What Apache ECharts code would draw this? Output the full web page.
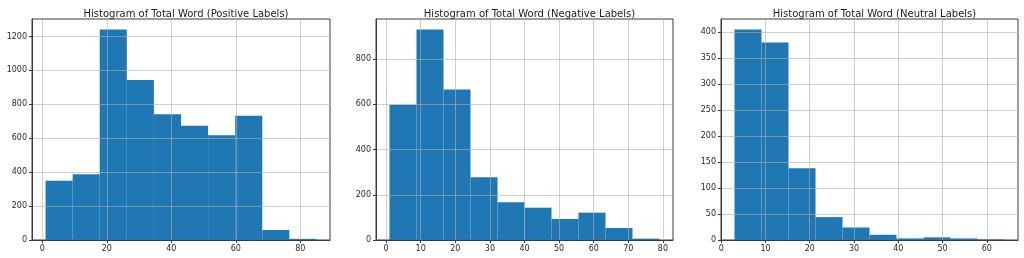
<!DOCTYPE html>
<html>
<head>
<meta charset="utf-8">
<script src="https://cdn.jsdelivr.net/npm/echarts@6/dist/echarts.min.js"></script>
<style>
html,body{margin:0;padding:0;background:#fff;}
#chart{width:1024px;height:258px;}
</style>
</head>
<body>
<div id="chart"></div>
<script>
// ---- data ----
const titles = [
  'Histogram of Total Word (Positive Labels)',
  'Histogram of Total Word (Negative Labels)',
  'Histogram of Total Word (Neutral Labels)'
];
const posEdges = [1, 9.4, 17.8, 26.2, 34.6, 43, 51.4, 59.8, 68.2, 76.6, 85];
const posCounts = [350, 387, 1241, 944, 742, 673, 618, 732, 59, 7];
const negEdges = [1, 8.8, 16.6, 24.4, 32.2, 40, 47.8, 55.6, 63.4, 71.2, 79];
const negCounts = [599, 931, 666, 278, 167, 143, 93, 121, 53, 6];
const neuEdges = [3, 9.1, 15.2, 21.3, 27.4, 33.5, 39.6, 45.7, 51.8, 57.9, 64];
const neuCounts = [405, 380, 138, 44, 24, 10, 3, 5, 3, 1];

const posXTicks = [0, 20, 40, 60, 80];
const posYTicks = [0, 200, 400, 600, 800, 1000, 1200];
const negXTicks = [0, 10, 20, 30, 40, 50, 60, 70, 80];
const negYTicks = [0, 200, 400, 600, 800];
const neuXTicks = [0, 10, 20, 30, 40, 50, 60];
const neuYTicks = [0, 50, 100, 150, 200, 250, 300, 350, 400];

const posXRange = [-3.2, 89.2], posYMax = 1303;
const negXRange = [-2.9, 82.9], negYMax = 978;
const neuXRange = [-0.05, 67.05], neuYMax = 425;

// ---- layout ----
const panels = [
  {edges: posEdges, counts: posCounts, xt: posXTicks, yt: posYTicks, xr: posXRange, ym: posYMax, left: 32, width: 298},
  {edges: negEdges, counts: negCounts, xt: negXTicks, yt: negYTicks, xr: negXRange, ym: negYMax, left: 376, width: 297},
  {edges: neuEdges, counts: neuCounts, xt: neuXTicks, yt: neuYTicks, xr: neuXRange, ym: neuYMax, left: 721, width: 297}
];
const TOP = 19, HEIGHT = 221;
const font = 'DejaVu Sans';
const gridColor = 'rgba(176,176,176,0.6)';
const frameColor = '#3a3a3a';
const plain = v => String(v);

const option = {
  animation: false,
  backgroundColor: '#fff',
  title: panels.map((p, i) => ({
    text: titles[i],
    left: p.left + p.width / 2,
    top: 4,
    textAlign: 'center',
    textStyle: {fontFamily: font, fontSize: 10, fontWeight: 'normal', color: '#222'}
  })),
  grid: panels.map(p => ({
    left: p.left, top: TOP, width: p.width, height: HEIGHT,
    show: true, borderColor: frameColor, borderWidth: 1, backgroundColor: 'transparent'
  })),
  xAxis: panels.map((p, i) => ({
    type: 'value', gridIndex: i, min: p.xr[0], max: p.xr[1], z: 3,
    axisLine: {show: true, onZero: false, lineStyle: {color: frameColor, width: 1}},
    axisTick: {show: true, length: 3, customValues: p.xt, lineStyle: {color: frameColor}},
    axisLabel: {customValues: p.xt, formatter: plain, margin: 5, fontFamily: font, fontSize: 8, color: '#2a2a2a'},
    splitLine: {show: true, lineStyle: {color: gridColor, width: 1}}
  })),
  yAxis: panels.map((p, i) => ({
    type: 'value', gridIndex: i, min: 0, max: p.ym, z: 3,
    axisLine: {show: true, onZero: false, lineStyle: {color: frameColor, width: 1}},
    axisTick: {show: true, length: 3, customValues: p.yt, lineStyle: {color: frameColor}},
    axisLabel: {customValues: p.yt, formatter: plain, margin: 5, fontFamily: font, fontSize: 8, color: '#2a2a2a'},
    splitLine: {show: true, lineStyle: {color: gridColor, width: 1}}
  })),
  series: panels.map((p, i) => ({
    type: 'custom',
    xAxisIndex: i, yAxisIndex: i,
    coordinateSystem: 'cartesian2d',
    encode: {x: [0, 1], y: 2},
    data: p.counts.map((c, k) => [p.edges[k], p.edges[k + 1], c]),
    renderItem: function (params, api) {
      const a = api.coord([api.value(0), api.value(2)]);
      const b = api.coord([api.value(1), 0]);
      return {
        type: 'rect',
        shape: {x: a[0], y: a[1], width: b[0] - a[0], height: b[1] - a[1]},
        style: {fill: '#1f77b4'}
      };
    }
  }))
};

const chart = echarts.init(document.getElementById('chart'), null, {renderer: 'canvas'});
chart.setOption(option);
</script>
</body>
</html>
